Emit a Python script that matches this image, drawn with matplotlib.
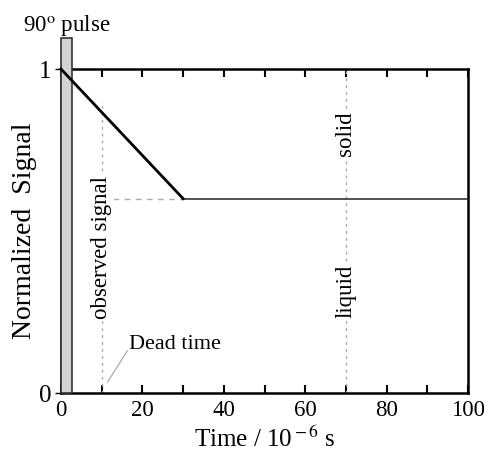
import matplotlib.pyplot as plt
import matplotlib.patches as patches

plt.rcParams['font.family'] = ['Liberation Serif', 'DejaVu Serif']
plt.rcParams['mathtext.fontset'] = 'stix'

# signal: decays during the first 30 us, then flat
decay_t = [0, 30]
decay_s = [1.0, 0.6]
flat_t = [30, 100]
flat_s = [0.6, 0.6]

dead_time = 10
probe_t = 70
pulse_width = 2.7

fig = plt.figure(figsize=(4.84, 4.57), dpi=100)
ax = fig.add_axes([0.126, 0.14, 0.841, 0.709])

# 90 degree pulse bar, sticking out above the frame
ax.add_patch(patches.Rectangle((0, 0), pulse_width, 1.096, facecolor='#d3d3d3',
                               edgecolor='#333333', lw=1.2, clip_on=False, zorder=4))
ax.text(1.5, 1.097, '90$^{\\rm o}$ pulse', fontsize=16.5, ha='center', va='bottom')

ax.plot(decay_t, decay_s, color='black', lw=2, zorder=5, clip_on=False)
ax.plot(flat_t, flat_s, color='#333333', lw=1.2, zorder=3)
ax.plot([dead_time, 30], [0.6, 0.6], color='#aaaaaa', lw=1, ls=(0, (4, 4)))

ax.plot([dead_time, dead_time], [0, 0.9], color='#aaaaaa', lw=1, ls=(0, (2, 3)))
ax.plot([probe_t, probe_t], [0, 1], color='#aaaaaa', lw=1, ls=(0, (2, 3)))

box = dict(facecolor='white', edgecolor='none', pad=1)
ax.text(dead_time, 0.45, 'observed signal', rotation=90, fontsize=16.5,
        ha='center', va='center', bbox=box)
ax.text(probe_t, 0.8, 'solid', rotation=90, fontsize=16.5, ha='center', va='center', bbox=box)
ax.text(probe_t, 0.315, 'liquid', rotation=90, fontsize=16.5, ha='center', va='center', bbox=box)

ax.plot([11.5, 16.3], [0.035, 0.13], color='#aaaaaa', lw=0.9)
ax.text(16.8, 0.15, 'Dead time', fontsize=16, ha='left', va='center')

ax.set_xlim(0, 100)
ax.set_ylim(0, 1)
ax.set_xticks(range(0, 101, 20))
ax.set_xticks(range(0, 101, 10), minor=True)
ax.set_yticks([0, 1])
ax.tick_params(axis='x', which='both', direction='in', top=True, length=6, width=1.5,
               labelsize=16.5, pad=5)
ax.tick_params(axis='x', which='minor', length=6)
ax.tick_params(axis='y', direction='out', length=4, width=1, labelsize=18, pad=3)
for s in ax.spines.values():
    s.set_linewidth(1.8)

ax.set_xlabel('Time / 10$^{\\rm -6}$ s', fontsize=18, labelpad=4)
ax.set_ylabel('Normalized  Signal', fontsize=20, labelpad=1)

fig.savefig('out.png', dpi=100)
